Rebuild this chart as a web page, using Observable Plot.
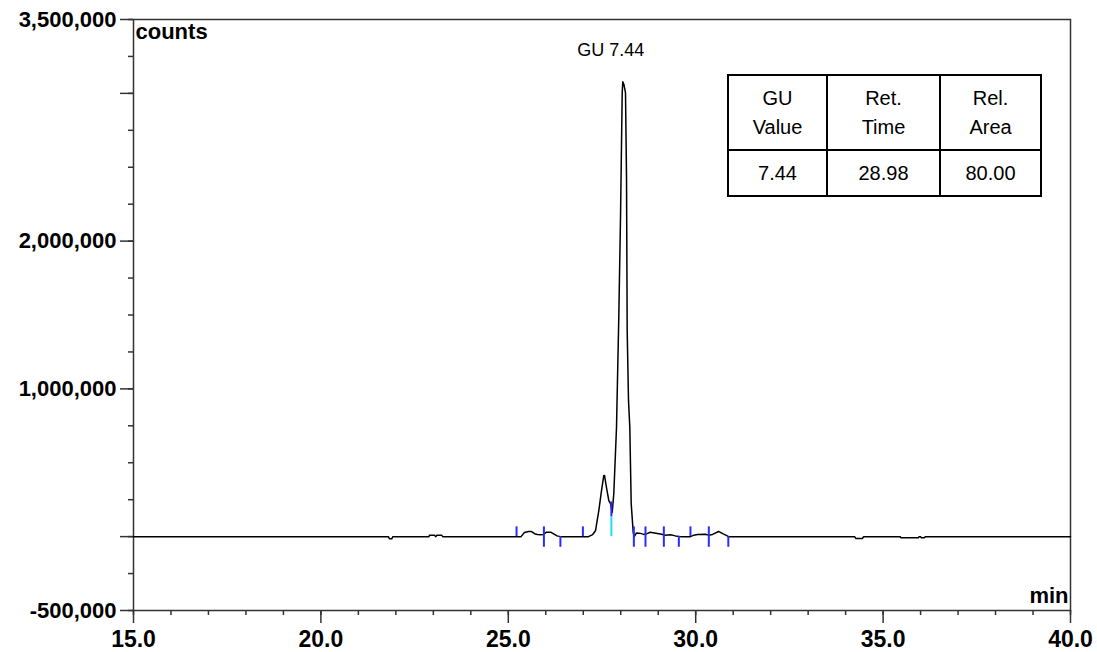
<!DOCTYPE html>
<html>
<head>
<meta charset="utf-8">
<script src="https://cdn.jsdelivr.net/npm/d3@7"></script>
<script src="https://cdn.jsdelivr.net/npm/@observablehq/plot@0.6"></script>
<style>
  html, body { margin: 0; padding: 0; background: white; }
  #wrap { position: relative; width: 1097px; height: 652px; }
  #wrap svg { position: absolute; left: 0; top: 0; }
  #tbl { position: absolute; left: 727px; top: 74px; border-collapse: collapse;
         font-family: 'Liberation Sans', Arial, sans-serif; font-size: 20px; color: black; }
  #tbl td { border: 2px solid black; padding: 0; text-align: center; }
  #tbl tr.h td { height: 73px; line-height: 29px; }
  #tbl tr.v td { height: 44px; line-height: 28px; }
</style>
</head>
<body>
<div id="wrap"></div>
<script>
// ---- data ----
const times = [15.00, 21.80, 21.83, 21.89, 21.92, 22.88, 22.90, 23.03, 23.06, 23.10, 23.22, 23.25,
  25.34, 25.43, 25.54, 25.62, 25.70, 25.78, 25.86, 25.94, 26.02, 26.13, 26.21, 26.30, 26.39,
  27.14, 27.25, 27.327, 27.415, 27.487, 27.548, 27.567, 27.620, 27.682, 27.727, 27.772, 27.815,
  27.887, 27.948, 27.994, 28.039, 28.055, 28.087, 28.127, 28.154, 28.172, 28.207, 28.242, 28.279,
  28.333, 28.36, 28.42, 28.53, 28.61, 28.70, 28.79, 28.90, 29.06, 29.19, 29.33, 29.46, 29.60,
  29.86, 29.95, 30.05, 30.26, 30.34, 30.45, 30.61, 30.72, 30.88,
  34.24, 34.27, 34.45, 34.48, 35.45, 35.48, 35.94, 35.96, 36.00, 36.02, 36.10, 36.13, 40.00];
const counts = [0, 0, -15000, -15000, 0, 0, 10000, 10000, 0, 10000, 10000, 0,
  0, 28000, 34000, 34000, 20000, 14000, 12000, 15000, 30000, 30000, 18000, 5000, 0,
  0, 14000, 40000, 176000, 312000, 414000, 414000, 332000, 244000, 224000, 163000, 292000,
  739000, 1485000, 2163000, 3003000, 3078000, 3058000, 3003000, 2434000, 1397000, 922000, 739000, 224000,
  27000, 0, 25000, 22000, 15000, 20000, 30000, 25000, 18000, 10000, 12000, 5000, 0,
  0, 10000, 14000, 16000, 10000, 15000, 35000, 20000, 0,
  0, -12000, -12000, 0, 0, -8000, -8000, 0, 0, -8000, -8000, 0, 0];

const markerTimes = [25.22, 25.95, 26.39, 26.99, 27.75, 28.35, 28.66, 29.15, 29.55, 29.86, 30.35, 30.87];
const markerKinds = ["up", "both", "down", "up", "drop", "both", "both", "both", "down", "up", "both", "down"];

const peakLabel = "GU 7.44";
const xMajorTicks = [15, 20, 25, 30, 35, 40];
const xMinorTicks = d3.range(15, 41, 1);
const yMajorTicks = [-500000, 0, 1000000, 2000000, 3000000, 3500000];
const yLabelTicks = [-500000, 1000000, 2000000, 3500000];
const yMinorTicks = d3.range(-500000, 3500001, 250000);
const xUnit = "min";
const yUnit = "counts";

const tableHeaders = [["GU", "Value"], ["Ret.", "Time"], ["Rel.", "Area"]];
const tableValues = ["7.44", "28.98", "80.00"];

// ---- build ----
const trace = times.map((t, i) => ({t, c: counts[i]}));
const markers = markerTimes.map((t, i) => ({t, kind: markerKinds[i]}));
const apex = trace.reduce((a, b) => (b.c > a.c ? b : a));

const up = 66000, down = -72000;
const font = "'Liberation Sans', Arial, sans-serif";
const fmt = d => d3.format(",")(d).replace("\u2212", "-");

const chart = Plot.plot({
  width: 1097,
  height: 652,
  marginLeft: 133,
  marginRight: 27,
  marginTop: 19,
  marginBottom: 42,
  x: {domain: [15, 40]},
  y: {domain: [-500000, 3500000]},
  style: {fontFamily: font, background: "white", color: "black", overflow: "visible"},
  marks: [
    Plot.axisY(yMinorTicks, {tickSize: 5, tickFormat: () => "", label: null, stroke: "#333", strokeWidth: 1.5}),
    Plot.axisY(yMajorTicks, {tickSize: 13, tickPadding: 4, label: null,
      tickFormat: d => yLabelTicks.includes(d) ? fmt(d) : "",
      fontSize: 22, fontWeight: "bold", stroke: "#333", fill: "black", strokeWidth: 1.5}),
    Plot.axisX(xMinorTicks, {tickSize: 5, tickFormat: () => "", label: null, stroke: "#333", strokeWidth: 1.5}),
    Plot.axisX(xMajorTicks, {tickSize: 13, tickPadding: 7, label: null, tickFormat: d3.format(".1f"),
      fontSize: 23, fontWeight: "bold", stroke: "#333", fill: "black", strokeWidth: 1.5}),
    Plot.frame({stroke: "#333", strokeWidth: 1.5}),
    Plot.line(trace, {x: "t", y: "c", stroke: "black", strokeWidth: 1.5}),
    Plot.ruleX(markers.filter(d => d.kind === "drop"), {x: "t", y1: 0, y2: 135000, stroke: "#22e0ee", strokeWidth: 2}),
    Plot.ruleX(markers, {
      x: "t",
      y1: d => d.kind === "up" ? 0 : d.kind === "drop" ? 135000 : down,
      y2: d => d.kind === "down" ? 0 : d.kind === "drop" ? 235000 : up,
      stroke: "#2b2bff", strokeWidth: 2
    }),
    Plot.text([peakLabel], {x: apex.t, y: apex.c, text: d => d, dx: -12, dy: -32,
      lineAnchor: "middle", textAnchor: "middle", fontSize: 18, fill: "black"}),
    Plot.text([yUnit], {text: d => d, frameAnchor: "top-left", dx: 2, dy: 4, lineAnchor: "top",
      textAnchor: "start", fontSize: 22, fontWeight: "bold", fill: "black"}),
    Plot.text([xUnit], {text: d => d, frameAnchor: "bottom-right", dx: -2, dy: -8, lineAnchor: "bottom",
      textAnchor: "end", fontSize: 22, fontWeight: "bold", fill: "black"})
  ]
});

const wrap = document.getElementById("wrap");
wrap.appendChild(chart);

// table annotation
const table = document.createElement("table");
table.id = "tbl";
const widths = [97, 111, 99];
const trH = document.createElement("tr"); trH.className = "h";
tableHeaders.forEach((lines, i) => {
  const td = document.createElement("td");
  td.style.width = widths[i] + "px";
  td.innerHTML = lines.join("<br>");
  trH.appendChild(td);
});
const trV = document.createElement("tr"); trV.className = "v";
tableValues.forEach((v, i) => {
  const td = document.createElement("td");
  td.style.width = widths[i] + "px";
  td.textContent = v;
  trV.appendChild(td);
});
table.appendChild(trH);
table.appendChild(trV);
wrap.appendChild(table);
</script>
</body>
</html>
